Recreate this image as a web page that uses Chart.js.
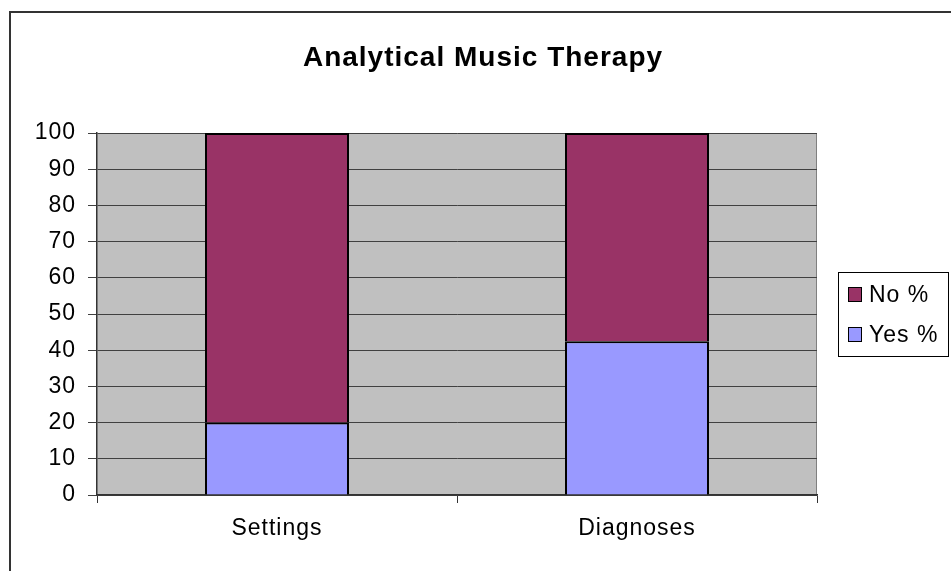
<!DOCTYPE html>
<html>
<head>
<meta charset="utf-8">
<script src="https://cdn.jsdelivr.net/npm/chart.js@4/dist/chart.umd.min.js"></script>
<style>
  html, body { margin: 0; padding: 0; background: #fff; }
  #wrap { width: 951px; height: 571px; }
</style>
</head>
<body>
<div id="wrap"><canvas id="chart" width="951" height="571"></canvas></div>
<script>
// Data
const categories = ['Settings', 'Diagnoses'];
const yesPct = [20, 42.5];
const noPct = [80, 57.5];
const seriesNames = ['Yes %', 'No %'];
const seriesColors = ['#9999FF', '#993366'];
const titleText = 'Analytical Music Therapy';

const FONT = 'Arial, "Liberation Sans", sans-serif';

// Frame, plot background, title and legend box
const decor = {
  id: 'decor',
  beforeDraw(chart) {
    const { ctx, chartArea: a } = chart;
    ctx.letterSpacing = '1px';
    ctx.save();
    ctx.fillStyle = '#C0C0C0';
    ctx.fillRect(a.left, a.top, a.right - a.left, a.bottom - a.top);
    ctx.strokeStyle = '#808080';
    ctx.lineWidth = 1;
    ctx.beginPath();
    ctx.moveTo(a.right - 0.5, a.top);
    ctx.lineTo(a.right - 0.5, a.bottom);
    ctx.stroke();
    ctx.restore();
  },
  afterDraw(chart) {
    const { ctx } = chart;
    ctx.save();
    // outer frame (only top/left visible)
    ctx.strokeStyle = '#333';
    ctx.lineWidth = 2;
    ctx.strokeRect(10, 12, 1000, 700);

    // title
    ctx.fillStyle = '#000';
    ctx.font = 'bold 28px ' + FONT;
    ctx.letterSpacing = '1px';
    ctx.textAlign = 'center';
    ctx.textBaseline = 'middle';
    ctx.fillText(titleText, 483, 58);

    // legend
    ctx.fillStyle = '#fff';
    ctx.fillRect(838, 272, 111, 84);
    ctx.strokeStyle = '#000';
    ctx.lineWidth = 1;
    ctx.strokeRect(838.5, 272.5, 110, 84);
    ctx.font = '23px ' + FONT;
    ctx.textAlign = 'left';
    const items = chart.data.datasets.slice().reverse();
    items.forEach((ds, i) => {
      const cy = 295 + i * 40;
      ctx.fillStyle = ds.backgroundColor;
      ctx.fillRect(848.5, cy - 7.5, 13, 14);
      ctx.strokeStyle = '#000';
      ctx.strokeRect(848.5, cy - 7.5, 13, 14);
      ctx.fillStyle = '#000';
      ctx.fillText(ds.label, 869, cy + 1);
    });
    ctx.restore();
  }
};

new Chart(document.getElementById('chart'), {
  type: 'bar',
  data: {
    labels: categories,
    datasets: [
      { label: seriesNames[0], data: yesPct, backgroundColor: seriesColors[0],
        borderColor: '#000', borderWidth: 2, barPercentage: 0.4, categoryPercentage: 1 },
      { label: seriesNames[1], data: noPct, backgroundColor: seriesColors[1],
        borderColor: '#000', borderWidth: 2, barPercentage: 0.4, categoryPercentage: 1 }
    ]
  },
  options: {
    responsive: false,
    animation: false,
    layout: { padding: { top: 133, right: 134, left: 0, bottom: 0 } },
    plugins: {
      legend: { display: false },
      title: { display: false },
      tooltip: { enabled: false }
    },
    scales: {
      x: {
        stacked: true,
        afterFit(scale) { scale.height = 76; },
        grid: { drawOnChartArea: false, drawTicks: true, tickLength: 8, tickColor: '#333', offset: true },
        border: { color: '#333', width: 1.5 },
        ticks: { color: '#000', font: { family: FONT, size: 23 }, padding: 12 }
      },
      y: {
        stacked: true,
        min: 0,
        max: 100,
        afterFit(scale) { scale.width = 97; },
        grid: { color: '#404040', lineWidth: 1, tickLength: 9, tickColor: '#404040' },
        border: { color: '#333', width: 1.5 },
        ticks: { stepSize: 10, color: '#000', font: { family: FONT, size: 23 }, padding: 12 }
      }
    }
  },
  plugins: [decor]
});
</script>
</body>
</html>
